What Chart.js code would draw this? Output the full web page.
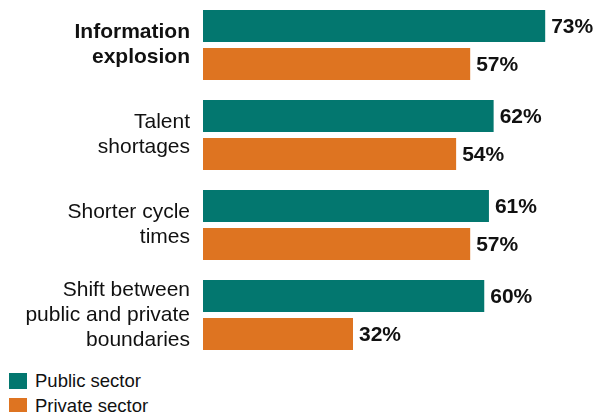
<!DOCTYPE html>
<html>
<head>
<meta charset="utf-8">
<script src="https://cdn.jsdelivr.net/npm/chart.js@4/dist/chart.umd.min.js"></script>
<style>
  body { margin: 0; background: #fff; font-family: "Liberation Sans", Arial, sans-serif; overflow: hidden; }
  #wrap { position: relative; width: 599px; height: 360px; }
  #legend { position: absolute; left: 9px; top: 368px; font-size: 18.5px; color: #111; }
  .row { display: flex; align-items: center; height: 25px; }
  .sw { width: 18px; height: 16px; margin-right: 8px; }
</style>
</head>
<body>
<div id="wrap"><canvas id="myChart" width="599" height="360"></canvas></div>
<div id="legend">
  <div class="row"><div class="sw" style="background:#03776f"></div>Public sector</div>
  <div class="row"><div class="sw" style="background:#de7421"></div>Private sector</div>
</div>
<script>
const categories = [
  ['Information', 'explosion'],
  ['Talent', 'shortages'],
  ['Shorter cycle', 'times'],
  ['Shift between', 'public and private', 'boundaries']
]
const publicSector = [73, 62, 61, 60]
const privateSector = [57, 54, 57, 32]

const teal = '#03776f'
const orange = '#de7421'

// draws the "73%" style labels at bar ends
const barLabels = {
  id: 'barLabels',
  afterDatasetsDraw(chart) {
    const ctx = chart.ctx
    ctx.save()
    ctx.font = 'bold 21px "Liberation Sans", Arial, sans-serif'
    ctx.fillStyle = '#111'
    ctx.textBaseline = 'middle'
    ctx.textAlign = 'left'
    chart.data.datasets.forEach((ds, i) => {
      chart.getDatasetMeta(i).data.forEach((bar, j) => {
        ctx.fillText(ds.data[j] + '%', bar.x + 6, bar.y + 1)
      })
    })
    ctx.restore()
  }
}

var ctx = document.getElementById('myChart').getContext('2d');
var chart = new Chart(ctx, {
    type: 'bar',
    data: {
        labels: categories,
        datasets: [{
            label: 'Public sector',
            backgroundColor: teal,
            data: publicSector
        },
        {
            label: 'Private sector',
            backgroundColor: orange,
            data: privateSector
        }]
    },
    options: {
        indexAxis: 'y',
        responsive: false,
        animation: false,
        devicePixelRatio: 1,
        categoryPercentage: 0.844,
        barPercentage: 0.842,
        layout: { padding: { left: 0, right: 21, top: 0, bottom: 0 } },
        plugins: {
            legend: { display: false },
            tooltip: { enabled: false }
        },
        scales: {
            x: { display: false, min: 0, max: 80 },
            y: {
                grid: { display: false, drawTicks: false },
                border: { display: false },
                afterFit(scale) {
                    scale.width = 203
                    scale.paddingTop = 0
                    scale.paddingBottom = 0
                },
                ticks: {
                    padding: 13,
                    color: '#111',
                    font: (c) => ({
                        family: '"Liberation Sans", Arial, sans-serif',
                        size: 21,
                        lineHeight: 1.19,
                        weight: c.index === 0 ? 'bold' : 'normal'
                    })
                }
            }
        }
    },
    plugins: [barLabels]
});
</script>
</body>
</html>
